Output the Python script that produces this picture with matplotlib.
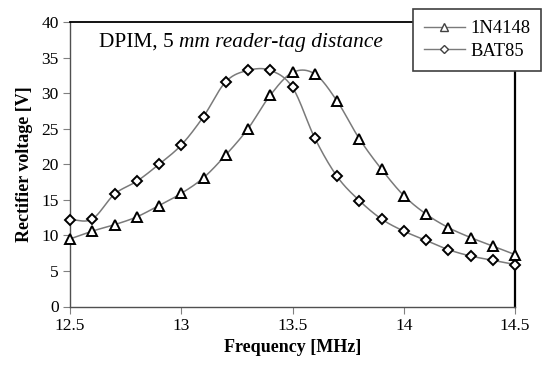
import numpy as np
import matplotlib
matplotlib.use("Agg")
import matplotlib.pyplot as plt
from matplotlib.lines import Line2D

plt.rcParams['font.family'] = ['Liberation Serif', 'DejaVu Serif']

freq = [12.5, 12.6, 12.7, 12.8, 12.9, 13.0, 13.1, 13.2, 13.3, 13.4, 13.5,
        13.6, 13.7, 13.8, 13.9, 14.0, 14.1, 14.2, 14.3, 14.4, 14.5]
v_1n4148 = [9.5, 10.6, 11.5, 12.6, 14.2, 15.9, 18.1, 21.3, 25.0, 29.7, 32.9,
            32.7, 28.9, 23.6, 19.3, 15.6, 13.0, 11.1, 9.7, 8.5, 7.3]
v_bat85 = [12.2, 12.3, 15.8, 17.6, 20.0, 22.7, 26.7, 31.6, 33.2, 33.2, 30.8,
           23.7, 18.3, 14.9, 12.3, 10.6, 9.3, 8.0, 7.1, 6.5, 5.9]
labels = ["1N4148", "BAT85"]


def smooth(x, y, n=20):
    # catmull-rom, like the spreadsheet "smoothed line"
    x = np.asarray(x, float)
    y = np.asarray(y, float)
    px = np.concatenate([[2 * x[0] - x[1]], x, [2 * x[-1] - x[-2]]])
    py = np.concatenate([[2 * y[0] - y[1]], y, [2 * y[-1] - y[-2]]])
    xs, ys = [], []
    t = np.linspace(0, 1, n, endpoint=False)
    for i in range(1, len(px) - 2):
        for p, out in ((px, xs), (py, ys)):
            p0, p1, p2, p3 = p[i - 1], p[i], p[i + 1], p[i + 2]
            out.extend(0.5 * (2 * p1 + (-p0 + p2) * t
                              + (2 * p0 - 5 * p1 + 4 * p2 - p3) * t ** 2
                              + (-p0 + 3 * p1 - 3 * p2 + p3) * t ** 3))
    xs.append(x[-1])
    ys.append(y[-1])
    return xs, ys


fig = plt.figure(figsize=(5.42, 3.65), dpi=100)
ax = fig.add_axes([70 / 542, 1 - 306.5 / 365, 445 / 542, 284.5 / 365])

lc = "#7a7a7a"
for vals, mk, ms in ((v_1n4148, "^", 7), (v_bat85, "D", 5.5)):
    sx, sy = smooth(freq, vals)
    ax.plot(sx, sy, color=lc, lw=1.1, zorder=2)
    ax.plot(freq, vals, ls="none", marker=mk, ms=ms, mfc="white",
            mec="black", mew=1.4, zorder=3, clip_on=False)

ax.set_xlim(12.5, 14.5)
ax.set_ylim(0, 40)
ax.set_xticks([12.5, 13, 13.5, 14, 14.5])
ax.set_xticklabels(["12.5", "13", "13.5", "14", "14.5"])
ax.set_yticks(range(0, 41, 5))
ax.tick_params(labelsize=12.5, direction="out", length=5, width=0.8,
               color="#808080", labelcolor="black", pad=3)
for s in ax.spines.values():
    s.set_linewidth(1.0)
ax.spines["left"].set_color("#505050")
ax.spines["bottom"].set_color("#505050")
ax.spines["top"].set_color("black")
ax.spines["right"].set_color("black")
ax.spines["right"].set_linewidth(1.6)
ax.spines["top"].set_linewidth(1.3)

ax.set_xlabel("Frequency [MHz]", fontsize=13, fontweight="bold", labelpad=4)
ax.set_ylabel("Rectifier voltage [V]", fontsize=13, fontweight="bold", labelpad=6)

t1 = ax.text(29 / 445, 0.928, "DPIM, 5 ", transform=ax.transAxes, fontsize=15.4,
             va="center", ha="left")
fig.canvas.draw()
bb = t1.get_window_extent(fig.canvas.get_renderer())
x2, _ = ax.transAxes.inverted().transform((bb.x1, bb.y0))
ax.text(x2, 0.928, "mm reader-tag distance", transform=ax.transAxes,
        fontsize=15.4, va="center", ha="left", style="italic")

handles = [Line2D([], [], color=lc, lw=1, marker="^", ms=6, mfc="white", mec="#404040"),
           Line2D([], [], color=lc, lw=1, marker="D", ms=4, mfc="white", mec="#404040")]
leg = fig.legend(handles, labels, loc="upper left", bbox_to_anchor=(413 / 542, 1 - 9 / 365),
                 fontsize=13.3, frameon=True, fancybox=False, edgecolor="#404040",
                 framealpha=1, handlelength=2.2, handletextpad=0.3,
                 borderpad=0.6, labelspacing=0.3, borderaxespad=0)
leg.get_frame().set_linewidth(1.2)

fig.savefig("out.png", dpi=100)
